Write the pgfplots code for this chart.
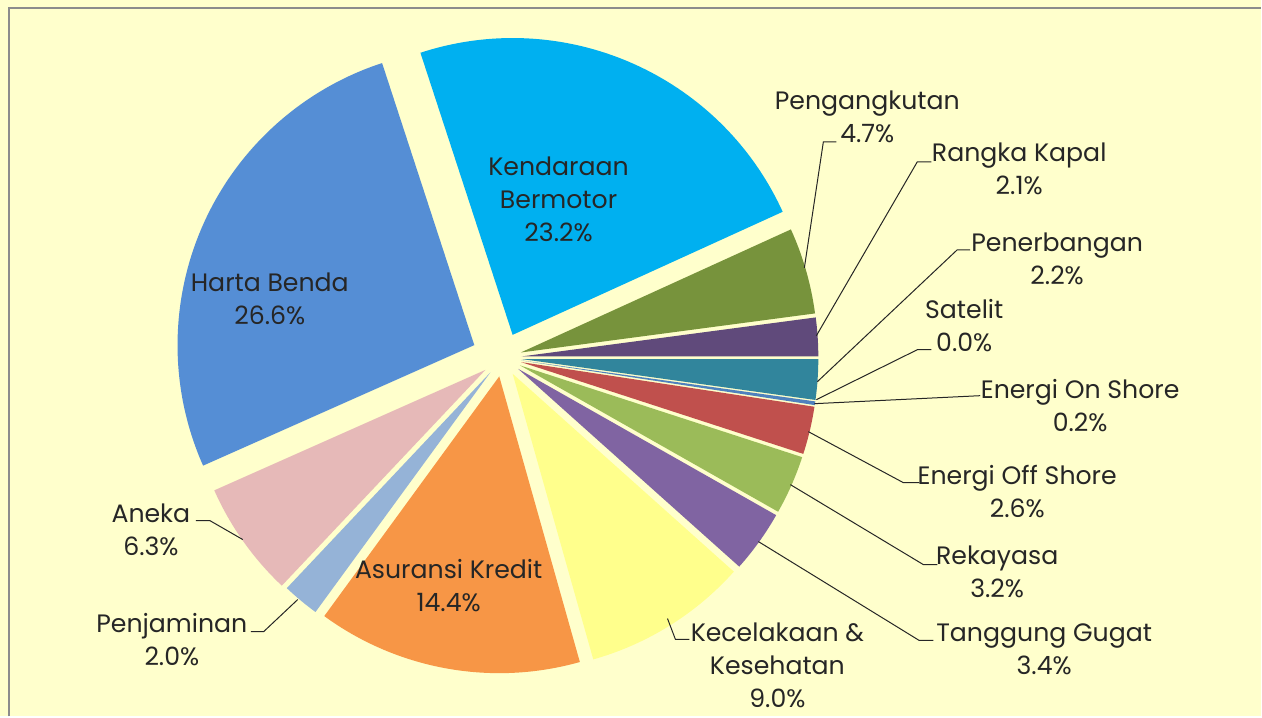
\documentclass[border=0pt]{standalone}
\usepackage{pgfplots}
\pgfplotsset{compat=1.18}
\usepackage{pgfplotstable}
\usepackage{fontspec}
\setmainfont{Poppins}

\definecolor{bg}{HTML}{FFFFCC}
\definecolor{frame}{HTML}{8C8C8C}
\definecolor{cPeng}{HTML}{77933C}
\definecolor{cRangka}{HTML}{604A7B}
\definecolor{cPener}{HTML}{31859C}
\definecolor{cSat}{HTML}{4BACC6}
\definecolor{cOn}{HTML}{4F81BD}
\definecolor{cOff}{HTML}{C0504D}
\definecolor{cRek}{HTML}{9BBB59}
\definecolor{cTang}{HTML}{8064A2}
\definecolor{cKec}{HTML}{FFFF8C}
\definecolor{cAsur}{HTML}{F79646}
\definecolor{cPenj}{HTML}{95B3D7}
\definecolor{cAneka}{HTML}{E6B9B8}
\definecolor{cHarta}{HTML}{558ED5}
\definecolor{cKend}{HTML}{00B0F0}

\tikzset{lbl/.style={font=\fontsize{12.6}{16.5}\selectfont, text=black!85, align=center, inner sep=0pt}}

% share (%), explosion (px), colour
\pgfplotstableread[col sep=comma]{
name,value,explode,color
Pengangkutan,4.7,19,cPeng
RangkaKapal,2.1,19,cRangka
Penerbangan,2.2,19,cPener
Satelit,0.0,19,cSat
EnergiOnShore,0.2,19,cOn
EnergiOffShore,2.6,19,cOff
Rekayasa,3.2,19,cRek
TanggungGugat,3.4,19,cTang
Kecelakaan,9.0,19,cKec
AsuransiKredit,14.4,19,cAsur
Penjaminan,2.0,19,cPenj
Aneka,6.3,21,cAneka
HartaBenda,26.6,31,cHarta
Kendaraan,23.2,25,cKend
}\piedata

\begin{document}
\begin{tikzpicture}
\begin{axis}[hide axis, scale only axis, width=631pt, height=358.5pt,
  xmin=0, xmax=1262, ymin=0, ymax=717, clip=false]
\fill[bg] (axis cs:0,0) rectangle (axis cs:1262,717);
\draw[frame, line width=1pt] (axis cs:9,0) -- (axis cs:9,709) -- (axis cs:1262,709);
\pgfplotsextra{
  \gdef\cum{0}
  \pgfplotstablegetrowsof{\piedata}\let\nrows\pgfplotsretval
  \pgfmathtruncatemacro\last{\nrows-1}
  \foreach \i in {0,...,\last}{
    \pgfplotstablegetelem{\i}{value}\of\piedata \let\v\pgfplotsretval
    \pgfplotstablegetelem{\i}{explode}\of\piedata \let\e\pgfplotsretval
    \pgfplotstablegetelem{\i}{color}\of\piedata \let\c\pgfplotsretval
    \pgfmathsetmacro\aS{24.5-360/99.9*\cum}
    \pgfmathsetmacro\aE{\aS-360/99.9*\v}
    \pgfmathsetmacro\aM{(\aS+\aE)/2}
    \pgfmathsetmacro\px{503+\e*cos(\aM)}
    \pgfmathsetmacro\py{359+\e*sin(\aM)}
    \ifdim \v pt>0pt
      \fill[fill=\c] (axis cs:\px,\py) -- ++(\aS:148.5pt) arc[start angle=\aS, end angle=\aE, radius=148.5pt] -- cycle;
    \fi
    \pgfmathsetmacro\newcum{\cum+\v}
    \global\let\cum\newcum
  }
}
% leader lines
\addplot[black!85, line width=0.5pt, no marks] coordinates {(837,575) (824,575) (805,449)};
\addplot[black!85, line width=0.5pt, no marks] coordinates {(932,555) (918,555) (817,381)};
\addplot[black!85, line width=0.5pt, no marks] coordinates {(971,467) (958,467) (818,335)};
\addplot[black!85, line width=0.5pt, no marks] coordinates {(932,367) (918,367) (817,317)};
\addplot[black!85, line width=0.5pt, no marks] coordinates {(981,321) (815,313)};
\addplot[black!85, line width=0.5pt, no marks] coordinates {(920,234) (904,234) (809,285)};
\addplot[black!85, line width=0.5pt, no marks] coordinates {(938,152) (924,152) (791,232)};
\addplot[black!85, line width=0.5pt, no marks] coordinates {(934,76) (920,76) (759,175)};
\addplot[black!85, line width=0.5pt, no marks] coordinates {(690,77) (676,77) (668,98)};
\addplot[black!85, line width=0.5pt, no marks] coordinates {(251,85) (264,85) (298,117)};
\addplot[black!85, line width=0.5pt, no marks] coordinates {(196,196) (210,196) (243,177)};
% labels
\node[lbl] at (axis cs:559,517.5) {Kendaraan\\Bermotor\\23.2\%};
\node[lbl] at (axis cs:270,417.5) {Harta Benda\\26.6\%};
\node[lbl] at (axis cs:449,130.5) {Asuransi Kredit\\14.4\%};
\node[lbl] at (axis cs:151,187) {Aneka\\6.3\%};
\node[lbl] at (axis cs:172,77) {Penjaminan\\2.0\%};
\node[lbl] at (axis cs:778,51) {Kecelakaan \&\\Kesehatan\\9.0\%};
\node[lbl] at (axis cs:1045,67.5) {Tanggung Gugat\\3.4\%};
\node[lbl] at (axis cs:998,144.5) {Rekayasa\\3.2\%};
\node[lbl] at (axis cs:1018,225.5) {Energi Off Shore\\2.6\%};
\node[lbl] at (axis cs:1081,311.5) {Energi On Shore\\0.2\%};
\node[lbl] at (axis cs:965,391) {Satelit\\0.0\%};
\node[lbl] at (axis cs:1058,457.5) {Penerbangan\\2.2\%};
\node[lbl] at (axis cs:1020,548) {Rangka Kapal\\2.1\%};
\node[lbl] at (axis cs:868,600.5) {Pengangkutan\\4.7\%};
\end{axis}
\end{tikzpicture}
\end{document}
